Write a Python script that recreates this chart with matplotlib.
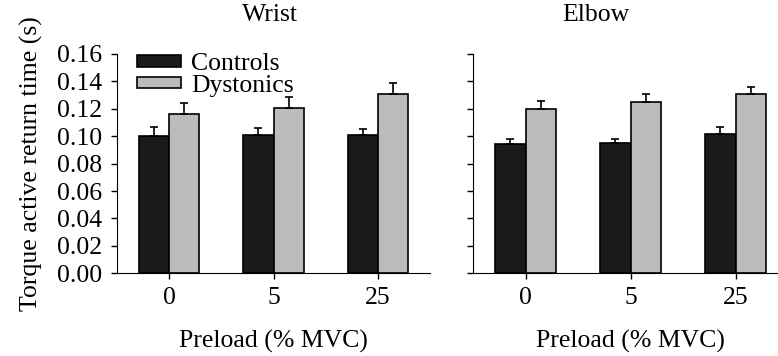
import matplotlib
matplotlib.use("Agg")
import matplotlib.pyplot as plt
import numpy as np

plt.rcParams['font.family'] = ['Liberation Serif', 'DejaVu Serif']

preloads = ["0", "5", "25"]
groups = ["Controls", "Dystonics"]

wrist_controls = [0.100, 0.1006, 0.101]
wrist_controls_err = [0.0064, 0.0051, 0.004]
wrist_dystonics = [0.1162, 0.1208, 0.1305]
wrist_dystonics_err = [0.0078, 0.0078, 0.0081]

elbow_controls = [0.094, 0.095, 0.1016]
elbow_controls_err = [0.0042, 0.0033, 0.0048]
elbow_dystonics = [0.120, 0.125, 0.1308]
elbow_dystonics_err = [0.0059, 0.0058, 0.0048]

yticks = [0.00, 0.02, 0.04, 0.06, 0.08, 0.10, 0.12, 0.14, 0.16]

FS = 18.5
W, H = 778, 356
fig = plt.figure(figsize=(W / 100, H / 100), dpi=100)

ax1 = fig.add_axes([117 / W, 1 - 273.3 / H, 313 / W, 219.3 / H])
ax2 = fig.add_axes([473 / W, 1 - 273.3 / H, 315 / W, 219.3 / H])

x = np.arange(len(preloads))
bw = 0.29


def draw(ax, ctrl, ctrl_err, dys, dys_err, title, title_x):
    ax.bar(x - bw / 2, ctrl, bw, color="#1a1a1a", edgecolor="black",
           linewidth=1.2, label=groups[0],
           yerr=[np.zeros(3), ctrl_err], capsize=3.2,
           error_kw=dict(ecolor="black", elinewidth=1.2, capthick=1.2))
    ax.bar(x + bw / 2, dys, bw, color="#bbbbbb", edgecolor="black",
           linewidth=1.2, label=groups[1],
           yerr=[np.zeros(3), dys_err], capsize=3.2,
           error_kw=dict(ecolor="black", elinewidth=1.2, capthick=1.2))
    ax.set_xlim(-0.5, 2.5)
    ax.set_ylim(0, 0.16)
    ax.set_xticks(x)
    ax.set_xticklabels(preloads, fontsize=FS)
    ax.set_yticks(yticks)
    ax.spines["top"].set_visible(False)
    ax.spines["right"].set_visible(False)
    ax.tick_params(direction="out", length=4, width=1, pad=6)
    ax.set_xlabel("Preload (% MVC)", fontsize=FS, labelpad=15)
    ax.text(title_x, 1.178, title, transform=ax.transAxes, ha="center",
            va="center", fontsize=FS)


draw(ax1, wrist_controls, wrist_controls_err, wrist_dystonics,
     wrist_dystonics_err, "Wrist", 0.49)
draw(ax2, elbow_controls, elbow_controls_err, elbow_dystonics,
     elbow_dystonics_err, "Elbow", 0.39)

ax1.set_yticklabels([f"{v:.2f}" for v in yticks], fontsize=FS)
ax1.tick_params(axis="y", pad=7)
ax1.set_ylabel("Torque active return time (s)", fontsize=FS, labelpad=10)
ax2.set_yticklabels([])

ax1.legend(loc="upper left", bbox_to_anchor=(0.064, 1.003), frameon=False,
           fontsize=FS, handlelength=1.7, handleheight=0.32,
           handletextpad=0.4, labelspacing=-0.02, borderpad=0,
           borderaxespad=0)

fig.savefig("out.png", dpi=100)
